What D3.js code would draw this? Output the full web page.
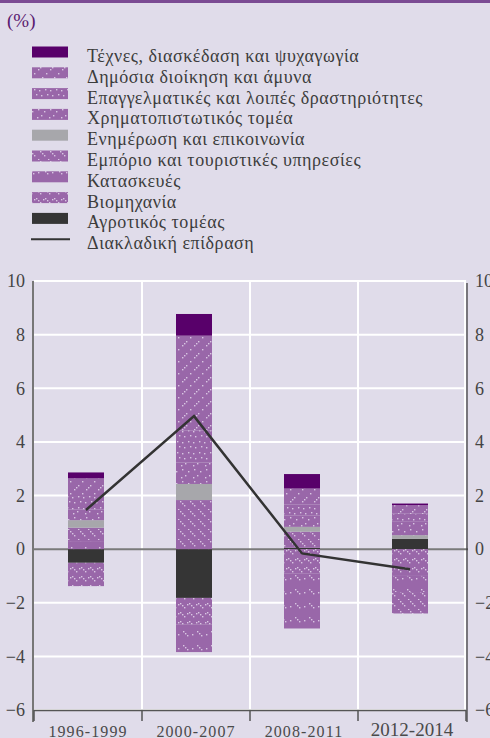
<!DOCTYPE html>
<html><head><meta charset="utf-8">
<script src="https://cdn.jsdelivr.net/npm/d3@7"></script>
<style>
html,body{margin:0;padding:0;background:#e0dcea;}
svg{display:block;}
</style></head>
<body>
<svg id="c" width="490" height="738"></svg>
<script>
const periods = ["1996-1999","2000-2007","2008-2011","2012-2014"];
const agriculture  = [-0.51,-1.82, 0.05, 0.38];
const industry     = [-0.87,-1.00,-0.90,-1.00];
const construction = [ 0.30,-1.02,-2.06,-0.60];
const trade        = [ 0.50, 1.83, 0.60,-0.80];
const information  = [ 0.28, 0.60, 0.18, 0.14];
const finance      = [ 0.40, 0.80, 0.43, 0.50];
const professional = [ 0.50, 1.20, 0.40, 0.30];
const publicAdmin  = [ 0.66, 3.53, 0.60, 0.32];
const arts         = [ 0.22, 0.81, 0.54, 0.06];
const crossSector  = [ 1.46, 4.96,-0.16,-0.75];
const yTicks = [-6,-4,-2,0,2,4,6,8,10];

const seriesNames = {
  arts:"Τέχνες, διασκέδαση και ψυχαγωγία",
  publicAdmin:"Δημόσια διοίκηση και άμυνα",
  professional:"Επαγγελματικές και λοιπές δραστηριότητες",
  finance:"Χρηματοπιστωτικός τομέα",
  information:"Ενημέρωση και επικοινωνία",
  trade:"Εμπόριο και τουριστικές υπηρεσίες",
  construction:"Κατασκευές",
  industry:"Βιομηχανία",
  agriculture:"Αγροτικός τομέας"
};
const lineName = "Διακλαδική επίδραση";
const stackKeys = ["agriculture","industry","construction","trade","information","finance","professional","publicAdmin","arts"];
const legendKeys = ["arts","publicAdmin","professional","finance","information","trade","construction","industry","agriculture"];
const dataArrays = {agriculture,industry,construction,trade,information,finance,professional,publicAdmin,arts};

const rows = periods.map((p,i)=>{const o={period:p}; stackKeys.forEach(k=>o[k]=dataArrays[k][i]); return o;});

const SERIF = "'Liberation Serif', 'Times New Roman', serif";
const svg = d3.select("#c");
const defs = svg.append("defs");
const PURPLE = "#9967a9", DOT = "#d9c6e2";
function makePattern(id, size, dots){
  const p = defs.append("pattern").attr("id",id).attr("patternUnits","userSpaceOnUse")
    .attr("width",size).attr("height",size);
  p.append("rect").attr("width",size).attr("height",size).attr("fill",PURPLE);
  dots.forEach(d=>p.append("rect").attr("x",d[0]).attr("y",d[1]).attr("width",1.4).attr("height",1.4).attr("fill",DOT));
}
makePattern("p-pub",12,[[2,9],[4,7],[6,5],[10,1]]);
makePattern("p-prof",11,[[1,1],[6,2],[3,6],[8,7]]);
makePattern("p-fin",12,[[2,1],[8,3],[5,7],[1,9]]);
makePattern("p-trade",10,[[0,1],[2,3],[4,5],[8,9]]);
makePattern("p-con",14,[[1,1],[3,3],[5,5],[10,4]]);
makePattern("p-ind",9,[[0,0],[2,2],[4,4],[7,1]]);

const fills = {
  arts:"#58006a", publicAdmin:"url(#p-pub)", professional:"url(#p-prof)", finance:"url(#p-fin)",
  information:"#a7a7ab", trade:"url(#p-trade)", construction:"url(#p-con)", industry:"url(#p-ind)",
  agriculture:"#353535"
};

// top band
svg.append("rect").attr("x",0).attr("y",0).attr("width",490).attr("height",3).attr("fill","#7b4b93");
svg.append("text").attr("x",7).attr("y",27).style("font-family",SERIF).style("font-size","19px").attr("fill","#5a1a70").text("(%)");

// legend
const lg = svg.append("g");
const legY0 = 52, legStep = 20.8;
legendKeys.forEach((k,i)=>{
  const cy = legY0 + i*legStep;
  lg.append("rect").attr("x",32).attr("y",cy-5.5).attr("width",36).attr("height",11).attr("fill",fills[k]);
  lg.append("text").attr("x",87).attr("y",cy+10).style("font-family",SERIF).style("font-size","18px")
    .style("letter-spacing","0.55px").attr("fill","#3c3c3c").text(seriesNames[k]);
});
{
  const cy = legY0 + 9*legStep;
  lg.append("line").attr("x1",31).attr("x2",70).attr("y1",cy).attr("y2",cy).attr("stroke","#333").attr("stroke-width",2);
  lg.append("text").attr("x",87).attr("y",cy+10).style("font-family",SERIF).style("font-size","18px")
    .style("letter-spacing","0.55px").attr("fill","#3c3c3c").text(lineName);
}

// chart
const x = d3.scaleBand().domain(periods).range([34,466]).padding(0);
const y = d3.scaleLinear().domain([-6,10]).range([710,281]);

// grid
svg.append("g").selectAll("line").data(yTicks.filter(t=>t!==0)).join("line")
  .attr("x1",34).attr("x2",466).attr("y1",d=>y(d)).attr("y2",d=>y(d))
  .attr("stroke","#ffffff").attr("stroke-width",2);
svg.append("g").selectAll("line").data(periods.slice(1)).join("line")
  .attr("x1",d=>x(d)).attr("x2",d=>x(d)).attr("y1",y(10)).attr("y2",y(-6))
  .attr("stroke","#ffffff").attr("stroke-width",2);
svg.append("line").attr("x1",465).attr("x2",465).attr("y1",y(10)).attr("y2",y(-6)).attr("stroke","#fff").attr("stroke-width",2);
// zero line
svg.append("line").attr("x1",34).attr("x2",468).attr("y1",y(0)).attr("y2",y(0)).attr("stroke","#7a7a7a").attr("stroke-width",2);

// bars
const stack = d3.stack().keys(stackKeys).offset(d3.stackOffsetDiverging).order(d3.stackOrderNone);
const series = stack(rows);
const barW = 36, barOff = -2;
svg.append("g").selectAll("g").data(series).join("g")
  .attr("fill",d=>fills[d.key])
  .selectAll("rect").data(d=>d).join("rect")
  .attr("x",d=>x(d.data.period)+x.bandwidth()/2-barW/2+barOff)
  .attr("width",barW)
  .attr("y",d=>y(Math.max(d[0],d[1])))
  .attr("height",d=>Math.abs(y(d[0])-y(d[1])));

// line
const line = d3.line().x((d,i)=>x(periods[i])+x.bandwidth()/2-2).y(d=>y(d));
svg.append("path").datum(crossSector).attr("d",line).attr("fill","none")
  .attr("stroke","#333").attr("stroke-width",2.5).attr("stroke-linejoin","miter");

// axes
const leftAxis = d3.axisLeft(y).tickValues(yTicks).tickSize(0).tickPadding(8).tickFormat(d3.format("d"));
const gl = svg.append("g").attr("transform","translate(33,0)").call(leftAxis);
gl.select(".domain").remove();
gl.selectAll("text").style("font-family",SERIF).style("font-size","18px").attr("fill","#444").attr("x",-8);
svg.append("line").attr("x1",33).attr("x2",33).attr("y1",y(10)).attr("y2",722).attr("stroke","#777").attr("stroke-width",2);

const rightAxis = d3.axisRight(y).tickValues(yTicks).tickSize(0).tickPadding(8).tickFormat(d3.format("d"));
const gr = svg.append("g").attr("transform","translate(467,0)").call(rightAxis);
gr.select(".domain").remove();
gr.selectAll("text").style("font-family",SERIF).style("font-size","18px").attr("fill","#444").attr("x",8);
svg.append("line").attr("x1",467).attr("x2",467).attr("y1",y(10)+2).attr("y2",722).attr("stroke","#333").attr("stroke-width",1.2);

// bottom axis
svg.append("line").attr("x1",34).attr("x2",466).attr("y1",710.5).attr("y2",710.5).attr("stroke","#555").attr("stroke-width",1.5);
const bounds = periods.map(p=>x(p)).concat([x.range()[1]]);
svg.append("g").selectAll("line").data(bounds).join("line")
  .attr("x1",d=>d).attr("x2",d=>d).attr("y1",710).attr("y2",721).attr("stroke","#555").attr("stroke-width",1.5);
svg.append("g").selectAll("text").data(periods).join("text")
  .attr("x",d=>x(d)+x.bandwidth()/2)
  .attr("y",(d,i)=>i===3?736:737)
  .attr("text-anchor","middle")
  .style("font-family",SERIF)
  .style("font-size",(d,i)=>i===3?"19px":"16px")
  .style("letter-spacing",(d,i)=>i===3?"0px":"1.1px")
  .attr("fill","#4a4a4a").text(d=>d);
</script>
</body></html>
